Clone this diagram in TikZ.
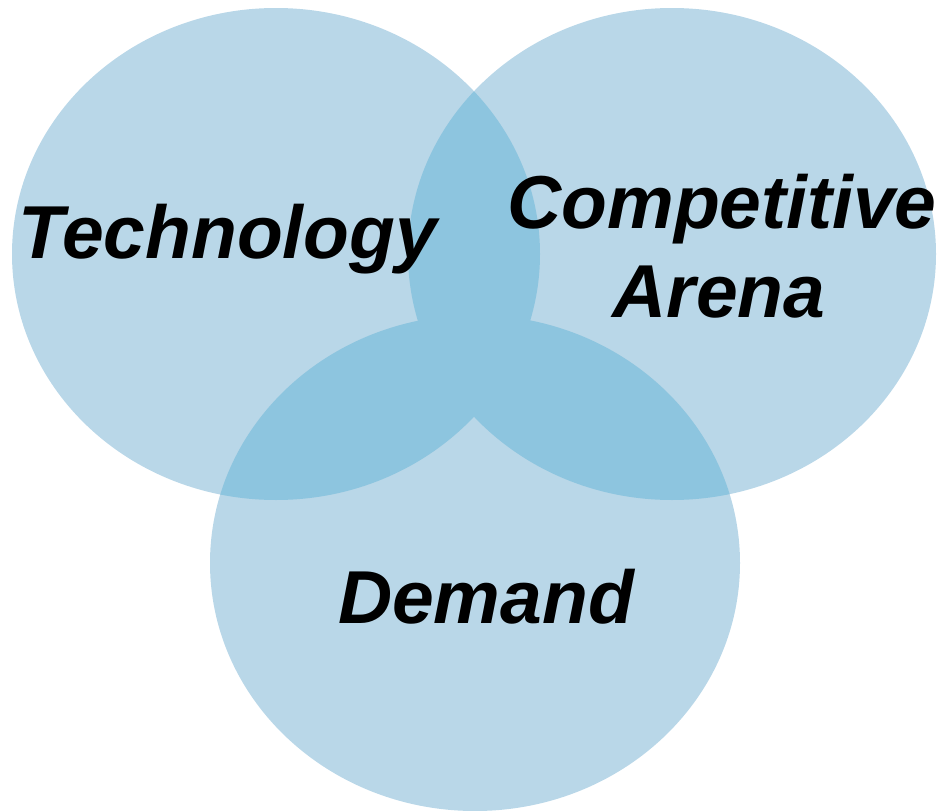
\documentclass[tikz,border=0pt]{standalone}
\usepackage{fontspec}
\setmainfont{Liberation Sans}
\definecolor{vennlight}{RGB}{185,215,232}
\definecolor{venndark}{RGB}{141,197,223}
\begin{document}
\begin{tikzpicture}[x=1pt,y=-1pt,
  lbl/.style={font=\fontsize{75}{90}\selectfont\bfseries\itshape, inner sep=0pt, anchor=base, text=black}]
\useasboundingbox (0,0) rectangle (938,811);
\def\techE{(276,254) ellipse [x radius=264, y radius=246]}
\def\compE{(672,254) ellipse [x radius=264, y radius=246]}
\def\demE{(475,563) ellipse [x radius=265, y radius=248]}
\fill[vennlight] \techE;
\fill[vennlight] \compE;
\fill[vennlight] \demE;
\begin{scope}
  \clip \techE;
  \fill[venndark] \compE;
  \fill[venndark] \demE;
\end{scope}
\begin{scope}
  \clip \compE;
  \fill[venndark] \demE;
\end{scope}
\node[lbl] (tech) at (228,258) {Technology};
\node[lbl] (comp) at (722,228) {Competitive};
\node[lbl] (arena) at (719,317) {Arena};
\node[lbl] (dem) at (486,623) {Demand};
\end{tikzpicture}
\end{document}
